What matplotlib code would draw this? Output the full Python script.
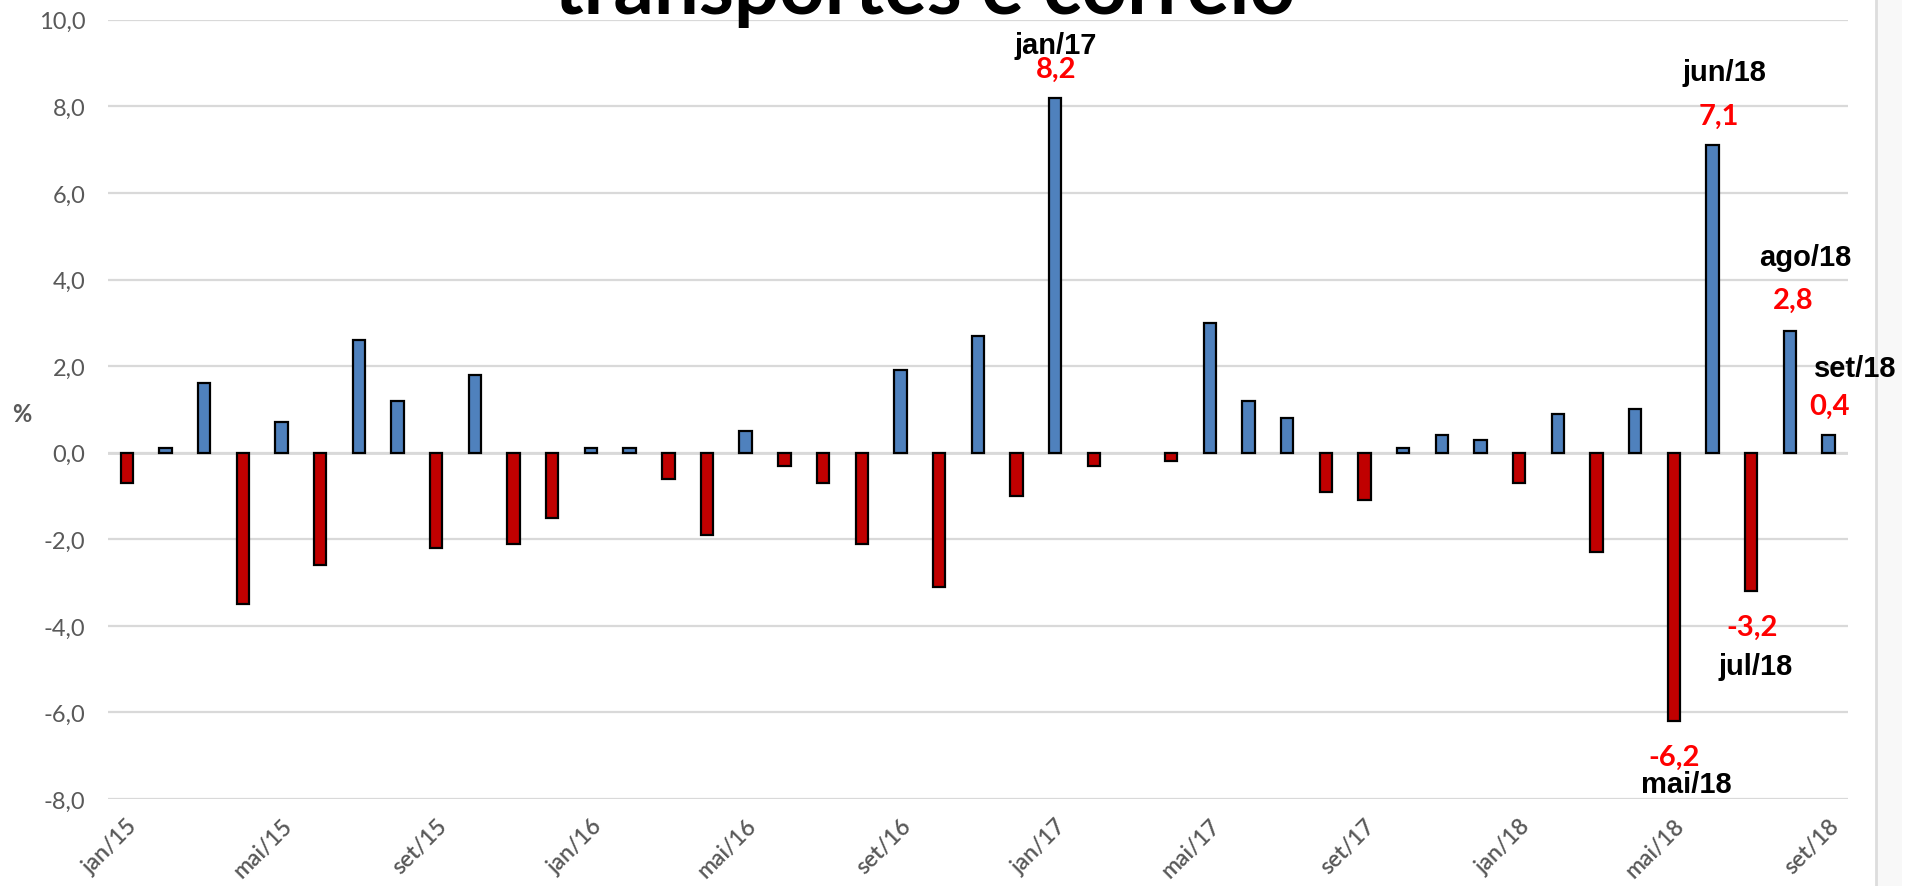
import matplotlib
matplotlib.use("Agg")
import matplotlib.pyplot as plt
import numpy as np

months = ["jan", "fev", "mar", "abr", "mai", "jun", "jul", "ago", "set", "out", "nov", "dez"]
years = ["15", "16", "17", "18"]
labels = [f"{m}/{y}" for y in years for m in months][:45]

values = [-0.7, 0.1, 1.6, -3.5, 0.7, -2.6, 2.6, 1.2, -2.2, 1.8, -2.1, -1.5,
          0.1, 0.1, -0.6, -1.9, 0.5, -0.3, -0.7, -2.1, 1.9, -3.1, 2.7, -1.0,
          8.2, -0.3, 0.0, -0.2, 3.0, 1.2, 0.8, -0.9, -1.1, 0.1, 0.4, 0.3,
          -0.7, 0.9, -2.3, 1.0, -6.2, 7.1, -3.2, 2.8, 0.4]

yticks = [-8, -6, -4, -2, 0, 2, 4, 6, 8, 10]
title = "transportes e correio"

highlights = ["jan/17", "mai/18", "jun/18", "jul/18", "ago/18", "set/18"]

BLUE = "#4F81BD"
RED = "#C00000"
GREY = "#595959"
GRID = "#D9D9D9"

W, H, DPI = 1916, 887, 100
fig = plt.figure(figsize=(W / DPI, H / DPI), dpi=DPI)
fig.patch.set_facecolor("white")

# right side panel
fig.patches.append(matplotlib.patches.Rectangle((1877 / W, 0), (1902 - 1877) / W, 1,
                   transform=fig.transFigure, facecolor="#F8F8F8", edgecolor="none", zorder=0))
fig.add_artist(matplotlib.lines.Line2D([1876 / W, 1876 / W], [0, 1], transform=fig.transFigure,
                                       color="#DDDDDD", lw=2))

left, right = 107.5 / W, 1848 / W
top, bottom = 1 - 20.8 / H, 1 - 800 / H
ax = fig.add_axes([left, bottom, right - left, top - bottom])

x = np.arange(len(values))
colors = [BLUE if v >= 0 else RED for v in values]
edges = ["black" if v != 0 else "none" for v in values]
ax.bar(x, values, width=0.32, color=colors, edgecolor=edges, linewidth=1.6, zorder=3)

ax.set_xlim(-0.5, len(values) - 0.5)
ax.set_ylim(-8, 10)
ax.set_yticks(yticks)
ax.set_yticklabels([f"{t:.1f}".replace(".", ",") for t in yticks])
ax.yaxis.grid(True, color=GRID, lw=1.6, zorder=0)
ax.axhline(0, color=GRID, lw=2, zorder=2)
for s in ax.spines.values():
    s.set_visible(False)
ax.tick_params(axis="y", length=0, pad=16, labelsize=17, labelcolor=GREY)
for lab in ax.get_yticklabels():
    lab.set_family("Lato")

tick_idx = list(range(0, len(values), 4))
ax.set_xticks(tick_idx)
ax.set_xticklabels([labels[i] for i in tick_idx], rotation=45, ha="right", va="top",
                   rotation_mode="anchor", fontsize=16.5, color=GREY, family="Lato", fontweight="semibold")
ax.tick_params(axis="x", length=0, pad=11)

fig.text(22 / W, 1 - 415 / H, "%", ha="center", va="center", fontsize=17, color=GREY,
         family="Lato", fontweight="bold")

# title, clipped at the top
t = fig.text(925 / W, 1 - 14 / H, title, ha="center", va="baseline", fontsize=52,
             fontweight="bold", family="Lato", color="black")
fig.canvas.draw()
bb = t.get_window_extent()
t.set_fontsize(52 * 740 / bb.width)

# annotations (positions in pixels)
ann = {
    "jan/17": ((1056, 46), (1056, 70)),
    "jun/18": ((1724, 73), (1719, 117)),
    "ago/18": ((1805, 258), (1793, 301)),
    "set/18": ((1855, 369), (1829, 407)),
    "jul/18": ((1756, 667), (1752, 628)),
    "mai/18": ((1686, 785), (1674, 758)),
}
for name in highlights:
    (lx, ly), (vx, vy) = ann[name]
    v = values[labels.index(name)]
    fig.text(lx / W, 1 - ly / H, name, ha="center", va="center", fontsize=21,
             fontweight="bold", family="Liberation Sans", color="black")
    fig.text(vx / W, 1 - vy / H, f"{v:.1f}".replace(".", ","), ha="center", va="center",
             fontsize=21, fontweight="bold", family="Lato", color="#FF0000")

fig.savefig("out.png", dpi=DPI, facecolor="white")
